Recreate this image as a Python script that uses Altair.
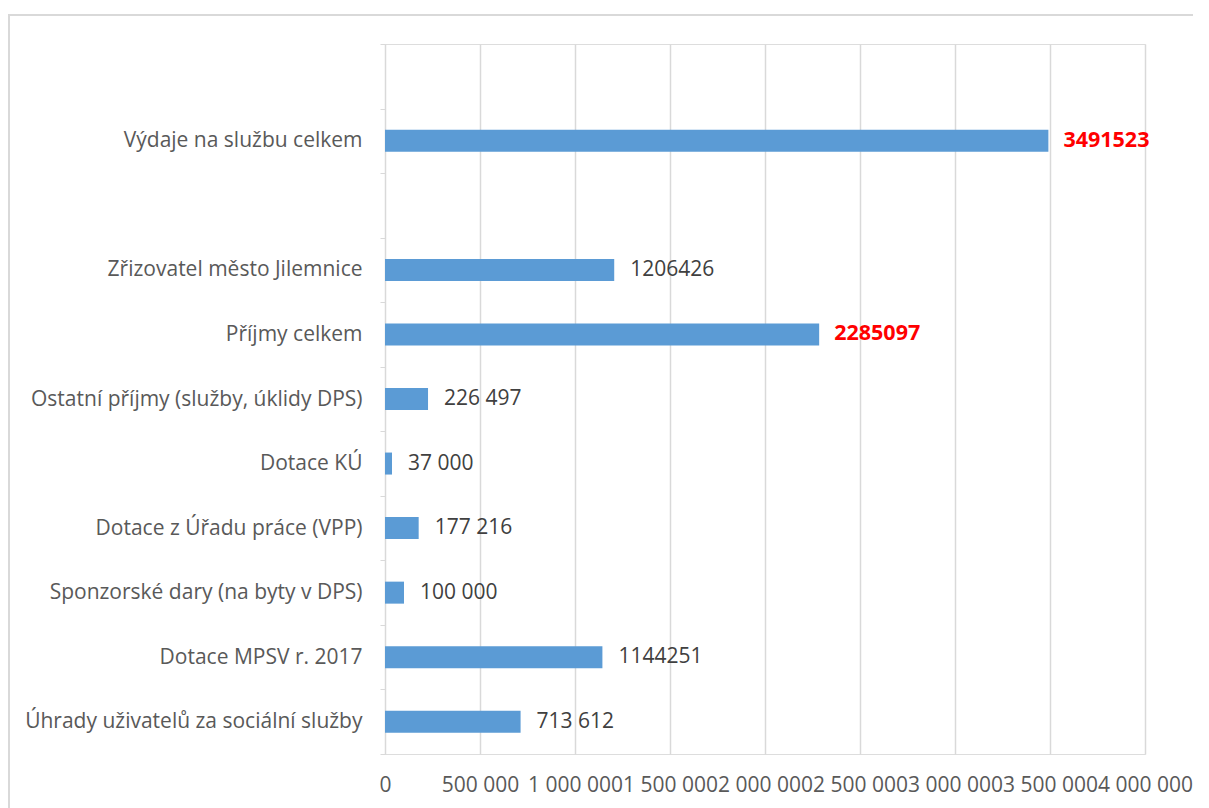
import altair as alt
import pandas as pd

categories = [
    "Výdaje na službu celkem",
    "Zřizovatel město Jilemnice",
    "Příjmy celkem",
    "Ostatní příjmy (služby, úklidy DPS)",
    "Dotace KÚ ",
    "Dotace z Úřadu práce (VPP)",
    "Sponzorské dary (na byty v DPS)",
    "Dotace MPSV r. 2017",
    "Úhrady uživatelů za sociální služby",
]
values = [3491523, 1206426, 2285097, 226497, 37000, 177216, 100000, 1144251, 713612]
value_labels = ["3491523", "1206426", "2285097", "226 497", "37 000", "177 216", "100 000", "1144251", "713 612"]
highlight = [True, False, True, False, False, False, False, False, False]

# order of slots on the y axis, with two empty slots
slot_order = [" ", categories[0], "  "] + categories[1:]
x_ticks = [0, 500000, 1000000, 1500000, 2000000, 2500000, 3000000, 3500000, 4000000]

df = pd.DataFrame({"cat": categories, "value": values, "label": value_labels, "hi": highlight})

FONT = "Open Sans"
GREY = "#595959"
FS = 21

y_enc = alt.Y(
    "cat:N",
    scale=alt.Scale(domain=slot_order, paddingInner=0, paddingOuter=0),
    axis=alt.Axis(
        title=None, tickBand="extent", tickSize=5, tickColor="#D9D9D9",
        domainColor="#D9D9D9", labelColor=GREY, labelFont=FONT, labelFontSize=FS,
        labelPadding=18, grid=False, labelLimit=500,
    ),
)
x_enc = alt.X(
    "value:Q",
    scale=alt.Scale(domain=[0, 4000000], nice=False),
    axis=alt.Axis(
        title=None, values=x_ticks, domain=False, ticks=False, grid=True,
        gridColor="#D9D9D9", gridWidth=1.5, labelColor=GREY, labelFont=FONT,
        labelFontSize=FS, labelPadding=20, labelExpr="replace(format(datum.value, ',d'), /,/g, ' ')",
        labelOverlap=False, labelFlush=False,
    ),
)

bars = alt.Chart(df).mark_bar(color="#5B9BD5", size=22).encode(x=x_enc, y=y_enc)

text_normal = alt.Chart(df).transform_filter("!datum.hi").mark_text(
    align="left", baseline="middle", dx=16, font=FONT, fontSize=FS, color="#404040"
).encode(x="value:Q", y=alt.Y("cat:N"), text="label:N")

text_hi = alt.Chart(df).transform_filter("datum.hi").mark_text(
    align="left", baseline="middle", dx=15, font=FONT, fontSize=21.5, fontWeight="bold", color="#FF0000"
).encode(x="value:Q", y=alt.Y("cat:N"), text="label:N")

border = alt.Chart(df).mark_rect(fill=None, stroke="#D9D9D9", strokeWidth=1.5).encode(
    x=alt.value(-376), x2=alt.value(840), y=alt.value(-29), y2=alt.value(820)
)

chart = alt.layer(border, bars, text_normal, text_hi).properties(
    width=760, height=710,
    padding={"left": 377, "top": 36, "right": 48, "bottom": 54},
    autosize=alt.AutoSizeParams(type="none"),
).configure_view(stroke=None).configure(background="white")

chart.save("out.html", embed_options={"renderer": "svg", "actions": False})
